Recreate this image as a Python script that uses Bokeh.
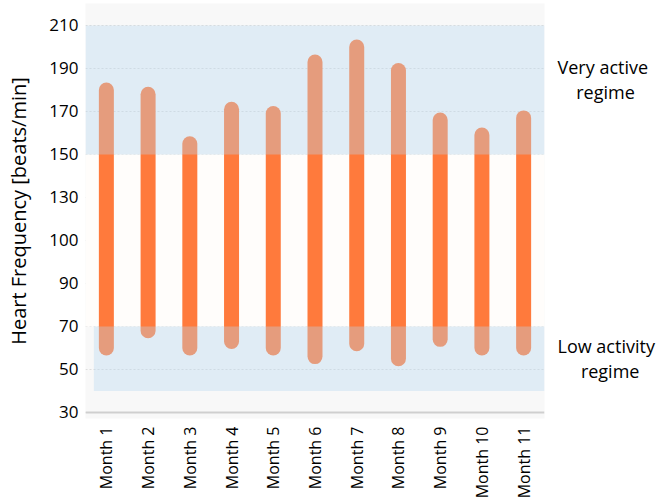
import numpy as np
from bokeh.plotting import figure
from bokeh.models import ColumnDataSource, FixedTicker, Span, BoxAnnotation, LinearAxis
from bokeh.embed import file_html
from bokeh.resources import INLINE

months = ["Month 1", "Month 2", "Month 3", "Month 4", "Month 5", "Month 6",
          "Month 7", "Month 8", "Month 9", "Month 10", "Month 11"]
low_bpm = [60, 68, 60, 63, 60, 56, 62, 55, 64, 60, 60]
high_bpm = [180, 178, 155, 171, 169, 193, 200, 189, 166, 159, 167]

tick_labels = [30, 50, 70, 90, 100, 130, 150, 170, 190, 210]
low_regime = (40, 70)
high_regime = (150, 210)
NB = "\u00a0"
regime_names = ["Very active\n" + NB * 4 + "regime", "Low activity\n" + NB * 5 + "regime"]

tick_idx = np.arange(len(tick_labels))


def to_axis(v):
    return np.interp(v, tick_labels, tick_idx)


src = ColumnDataSource(dict(
    month=months,
    low=to_axis(low_bpm),
    high=to_axis(high_bpm),
))

FONT = "Open Sans"

p = figure(width=670, height=501, x_range=months, y_range=(-0.14, 9.51),
           output_backend="svg", toolbar_location=None,
           min_border_left=85, min_border_right=126, min_border_top=3,
           min_border_bottom=82)
p.outline_line_color = None
p.background_fill_color = "#F8F8F8"
p.border_fill_color = "white"

# white middle zone
p.add_layout(BoxAnnotation(bottom=to_axis(low_regime[1]), top=to_axis(high_regime[0]),
                           fill_color="#FFFDFB", fill_alpha=1.0, line_color=None, level="underlay"))

p.xgrid.grid_line_color = None
p.ygrid.ticker = FixedTicker(ticks=list(tick_idx))
p.ygrid.grid_line_color = "#D6D6D6"
p.ygrid.grid_line_dash = "2 2"
p.ygrid.grid_line_alpha = 0.8

p.segment(x0="month", y0="low", x1="month", y1="high", source=src,
          line_color="#FF7A3C", line_width=15, line_cap="round")

BAND = "#B8D7F0"
p.add_layout(BoxAnnotation(bottom=to_axis(high_regime[0]), top=to_axis(high_regime[1]),
                           fill_color=BAND, fill_alpha=0.36, line_color=None))
p.add_layout(BoxAnnotation(bottom=to_axis(low_regime[0]), top=to_axis(low_regime[1]),
                           left=0.2, fill_color=BAND, fill_alpha=0.36, line_color=None))

p.add_layout(Span(location=0, dimension="width", line_color="#CFCFCF", line_width=2))

p.yaxis.ticker = FixedTicker(ticks=list(tick_idx))
p.yaxis.major_label_overrides = {int(i): str(t) for i, t in zip(tick_idx, tick_labels)}
p.yaxis.axis_line_color = None
p.yaxis.major_tick_line_color = None
p.yaxis.minor_tick_line_color = None
p.yaxis.major_label_standoff = 1
p.yaxis.major_label_text_font = FONT
p.yaxis.major_label_text_font_size = "17px"
p.yaxis.major_label_text_color = "black"
p.yaxis.axis_label = "Heart Frequency [beats/min]"
p.yaxis.axis_label_text_font = FONT
p.yaxis.axis_label_text_font_style = "normal"
p.yaxis.axis_label_text_font_size = "20px"
p.yaxis.axis_label_text_color = "black"
p.yaxis.axis_label_standoff = 14

p.xaxis.axis_line_color = None
p.xaxis.major_tick_line_color = None
p.xaxis.major_label_orientation = np.pi / 2
p.xaxis.major_label_standoff = 2
p.xaxis.major_label_text_font = FONT
p.xaxis.major_label_text_font_size = "16px"
p.xaxis.major_label_text_color = "black"

# regime names on a right-hand axis
reg_pos = [7.75, 1.25]
rax = LinearAxis(ticker=FixedTicker(ticks=reg_pos),
                 major_label_overrides={reg_pos[0]: regime_names[0], reg_pos[1]: regime_names[1]})
rax.axis_line_color = None
rax.major_tick_line_color = None
rax.minor_tick_line_color = None
rax.major_label_standoff = 7
rax.major_label_text_font = FONT
rax.major_label_text_font_size = "18px"
rax.major_label_text_line_height = 1.05
rax.major_label_text_color = "black"
p.add_layout(rax, "right")

open("out.html", "w").write(file_html(p, INLINE))
